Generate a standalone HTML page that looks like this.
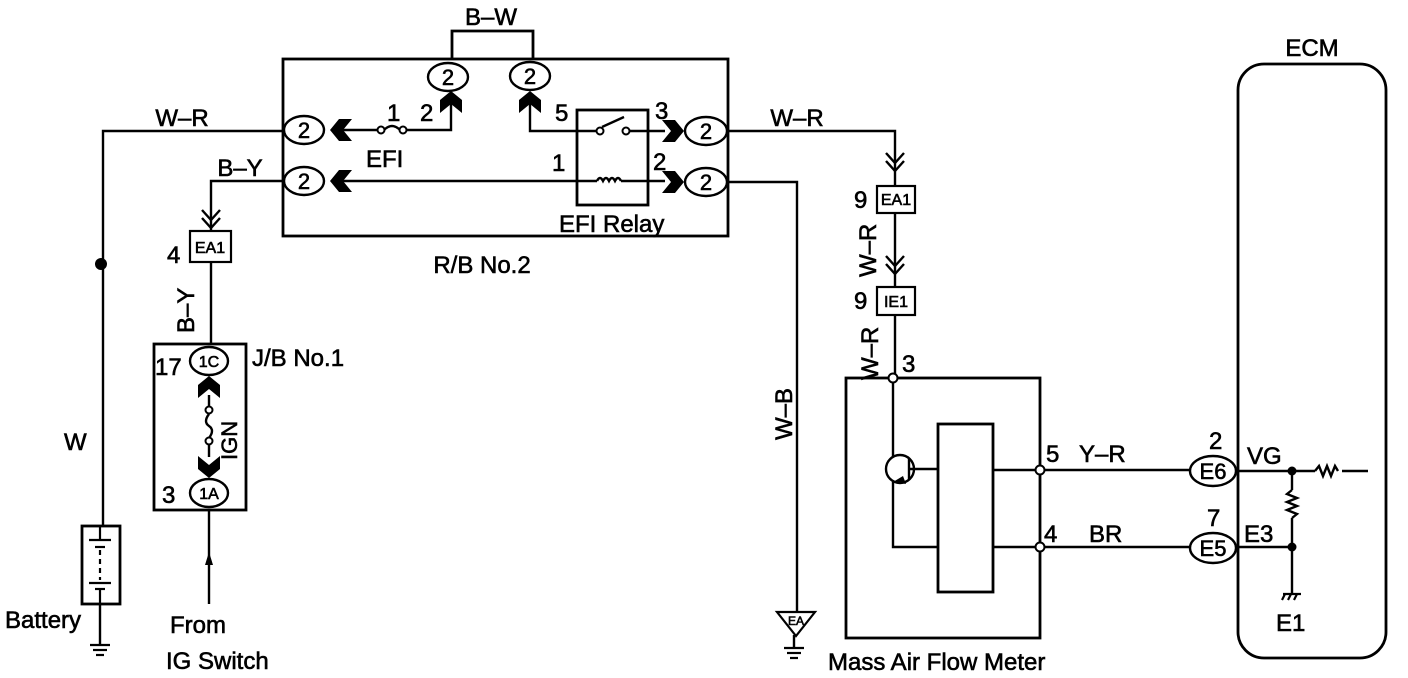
<!DOCTYPE html>
<html><head><meta charset="utf-8"><style>
html,body{margin:0;padding:0;background:#fff;}
svg{display:block;}
text{font-family:"Liberation Sans",Arial,sans-serif;fill:#000;stroke:#000;stroke-width:0.6;}
</style></head><body>
<svg width="1408" height="678" viewBox="0 0 1408 678" xmlns="http://www.w3.org/2000/svg">
<defs>
<g id="chR"><polygon points="-22,-11 -9,-11 0,0 -9,11 -22,11 -13,0" fill="#000"/></g>
</defs>
<g stroke="#000" stroke-width="2.8" fill="none">
<rect x="283" y="59" width="445" height="177"/>
<polyline points="452,59 452,31 533,31 533,59"/>
<rect x="577" y="110" width="71" height="95"/>
<rect x="154" y="344" width="92" height="166"/>
<rect x="82" y="526" width="38" height="78"/>
<rect x="846" y="378" width="194" height="260"/>
<rect x="938" y="424" width="55" height="168"/>
<rect x="1238" y="64" width="148" height="594" rx="26"/>
</g>
<g stroke="#000" stroke-width="2.4" fill="none">
<ellipse cx="448" cy="77" rx="20" ry="14"/>
<ellipse cx="530" cy="76" rx="20" ry="14"/>
<ellipse cx="304" cy="130" rx="20" ry="14"/>
<ellipse cx="304" cy="181" rx="20" ry="14"/>
<ellipse cx="706" cy="131" rx="21" ry="14"/>
<ellipse cx="706" cy="182" rx="21" ry="14"/>
<ellipse cx="209" cy="361" rx="19" ry="14"/>
<ellipse cx="209" cy="493" rx="19" ry="14"/>
<ellipse cx="1213" cy="471" rx="23" ry="15"/>
<ellipse cx="1213" cy="548" rx="23" ry="15"/>
<polyline points="283,131 103,131 103,526"/>
<line x1="100" y1="604" x2="100" y2="645"/>
<polyline points="284,181 211,181 211,231"/>
<line x1="211" y1="262" x2="211" y2="344"/>
<line x1="209" y1="510" x2="209" y2="604"/>
<line x1="336" y1="130" x2="378" y2="130"/>
<path d="M384,130 Q392,122 400,130"/>
<polyline points="406,130 451,130 451,96"/>
<polyline points="530,96 530,131 598,131"/>
<line x1="602" y1="127" x2="624" y2="117" />
<line x1="629" y1="131" x2="665" y2="131"/>
<line x1="336" y1="181" x2="597" y2="181"/>
<path d="M597,181 q3,-6 6,0 q3,-6 6,0 q3,-6 6,0 q3,-6 6,0"/>
<line x1="621" y1="181" x2="665" y2="181"/>
<polyline points="727,131 895,131 895,186"/>
<line x1="895" y1="213" x2="895" y2="287"/>
<line x1="895" y1="315" x2="895" y2="378"/>
<polyline points="727,182 797,182 797,612"/>
<line x1="794" y1="635" x2="794" y2="648"/>
<line x1="893" y1="378" x2="893" y2="456"/>
<polyline points="893,482 893,547 938,547"/>
<circle cx="900" cy="469" r="14"/>
<line x1="909" y1="458" x2="909" y2="480"/>
<line x1="909" y1="469" x2="938" y2="469"/>
<line x1="993" y1="470" x2="1190" y2="470"/>
<line x1="993" y1="547" x2="1190" y2="547"/>
<line x1="1238" y1="471" x2="1315" y2="471"/>
<path d="M1315,471 l4,-5 l4,10 l4,-10 l4,10 l4,-10 l3,5"/>
<line x1="1342" y1="471" x2="1368" y2="471"/>
<line x1="1292" y1="471" x2="1292" y2="490"/>
<path d="M1292,490 l-5,4 l10,4 l-10,4 l10,4 l-10,4 l10,4 l-5,4"/>
<line x1="1292" y1="518" x2="1292" y2="593"/>
<line x1="1238" y1="547" x2="1292" y2="547"/>
<polyline points="202,210 211,220 220,210"/>
<polyline points="202,218 211,228 220,218"/>
<polyline points="886,153 895,163 904,153"/>
<polyline points="886,161 895,171 904,161"/>
<polyline points="886,256 895,266 904,256"/>
<polyline points="886,264 895,274 904,264"/>
<line x1="209" y1="395" x2="209" y2="407"/>
<path d="M209,414 q-6,8 0,12 q6,4 0,12"/>
<line x1="209" y1="444" x2="209" y2="457"/>
</g>
<g stroke="#000" stroke-width="2" fill="#fff">
<circle cx="381" cy="130" r="3.5"/><circle cx="403" cy="130" r="3.5"/>
<circle cx="600" cy="131" r="3.5"/><circle cx="626" cy="131" r="3.5"/>
<circle cx="209" cy="410" r="3.5"/><circle cx="209" cy="441" r="3.5"/>
<circle cx="893" cy="378" r="4.5"/>
<circle cx="1040" cy="470" r="4.5"/><circle cx="1040" cy="547" r="4.5"/>
</g>
<g fill="#000">
<circle cx="101" cy="264" r="6"/>
<circle cx="1292" cy="471" r="4.5"/>
<circle cx="1292" cy="547" r="4.5"/>
<use href="#chR" transform="translate(330,130) rotate(180)"/>
<use href="#chR" transform="translate(330,181) rotate(180)"/>
<use href="#chR" transform="translate(684,131)"/>
<use href="#chR" transform="translate(684,182)"/>
<use href="#chR" transform="translate(451,91) rotate(-90)"/>
<use href="#chR" transform="translate(530,91) rotate(-90)"/>
<use href="#chR" transform="translate(209,376) rotate(-90)"/>
<use href="#chR" transform="translate(209,478) rotate(90)"/>
<polygon points="205,565 213,565 209,552"/>
<polygon points="893,482 903,476 906,484"/>
</g>
<g stroke="#000" stroke-width="2.2" fill="none">
<line x1="100" y1="526" x2="100" y2="540"/>
<line x1="89" y1="540" x2="111" y2="540"/>
<line x1="95" y1="547" x2="105" y2="547"/>
<line x1="100" y1="550" x2="100" y2="580" stroke-dasharray="5,4"/>
<line x1="89" y1="583" x2="111" y2="583"/>
<line x1="95" y1="589" x2="105" y2="589"/>
<line x1="100" y1="589" x2="100" y2="604"/>
<line x1="90" y1="645" x2="110" y2="645"/>
<line x1="93" y1="650" x2="107" y2="650"/>
<line x1="96" y1="655" x2="104" y2="655"/>
<polygon points="777,612 815,612 796,636"/>
<line x1="784" y1="648" x2="804" y2="648"/>
<line x1="787" y1="653" x2="801" y2="653"/>
<line x1="790" y1="658" x2="798" y2="658"/>
<line x1="1283" y1="594" x2="1301" y2="594"/>
<line x1="1285" y1="594" x2="1282" y2="600"/><line x1="1291" y1="594" x2="1288" y2="600"/><line x1="1297" y1="594" x2="1294" y2="600"/>
<rect x="190" y="231" width="41" height="31"/>
<rect x="877" y="186" width="38" height="27"/>
<rect x="877" y="287" width="38" height="28"/>
</g>
<g font-size="24">
<text x="491" y="25" text-anchor="middle">B–W</text>
<text x="182" y="126" text-anchor="middle">W–R</text>
<text x="240" y="176" text-anchor="middle">B–Y</text>
<text x="797" y="126" text-anchor="middle">W–R</text>
<text x="387" y="121">1</text>
<text x="420" y="121">2</text>
<text x="555" y="121">5</text>
<text x="655" y="119">3</text>
<text x="552" y="171">1</text>
<text x="653" y="170">2</text>
<text x="366" y="167">EFI</text>
<text x="559" y="232">EFI Relay</text>
<text x="482" y="273" text-anchor="middle">R/B No.2</text>
<text x="167" y="263">4</text>
<text x="252" y="366">J/B No.1</text>
<text x="155" y="375">17</text>
<text x="162" y="503">3</text>
<text x="64" y="450">W</text>
<text x="5" y="628">Battery</text>
<text x="170" y="633">From</text>
<text x="166" y="669">IG Switch</text>
<text x="854" y="208">9</text>
<text x="854" y="309">9</text>
<text x="902" y="372">3</text>
<text x="1046" y="462">5</text>
<text x="1079" y="462">Y–R</text>
<text x="1044" y="542">4</text>
<text x="1089" y="542">BR</text>
<text x="1209" y="449">2</text>
<text x="1207" y="526">7</text>
<text x="1247" y="464">VG</text>
<text x="1244" y="542">E3</text>
<text x="1276" y="631">E1</text>
<text x="1312" y="56" text-anchor="middle">ECM</text>
<text x="828" y="670">Mass Air Flow Meter</text>
<text transform="translate(194,333) rotate(-90)">B–Y</text>
<text transform="translate(876,277) rotate(-90)">W–R</text>
<text transform="translate(878,380) rotate(-90)">W–R</text>
<text transform="translate(792,440) rotate(-90)">W–B</text>
<text transform="translate(237,460) rotate(-90)" font-size="22">IGN</text>
</g>
<g font-size="22" text-anchor="middle">
<text x="448" y="85">2</text><text x="530" y="84">2</text>
<text x="304" y="138">2</text><text x="304" y="189">2</text>
<text x="706" y="139">2</text><text x="706" y="190">2</text>
<text x="1213" y="479">E6</text><text x="1213" y="556">E5</text>
</g>
<g font-size="16" text-anchor="middle">
<text x="209" y="367">1C</text><text x="209" y="499">1A</text>
<text x="210" y="253">EA1</text>
<text x="896" y="205">EA1</text>
<text x="896" y="307">IE1</text>
<text x="796" y="625" font-size="12">EA</text>
</g>
</svg>
</body></html>
